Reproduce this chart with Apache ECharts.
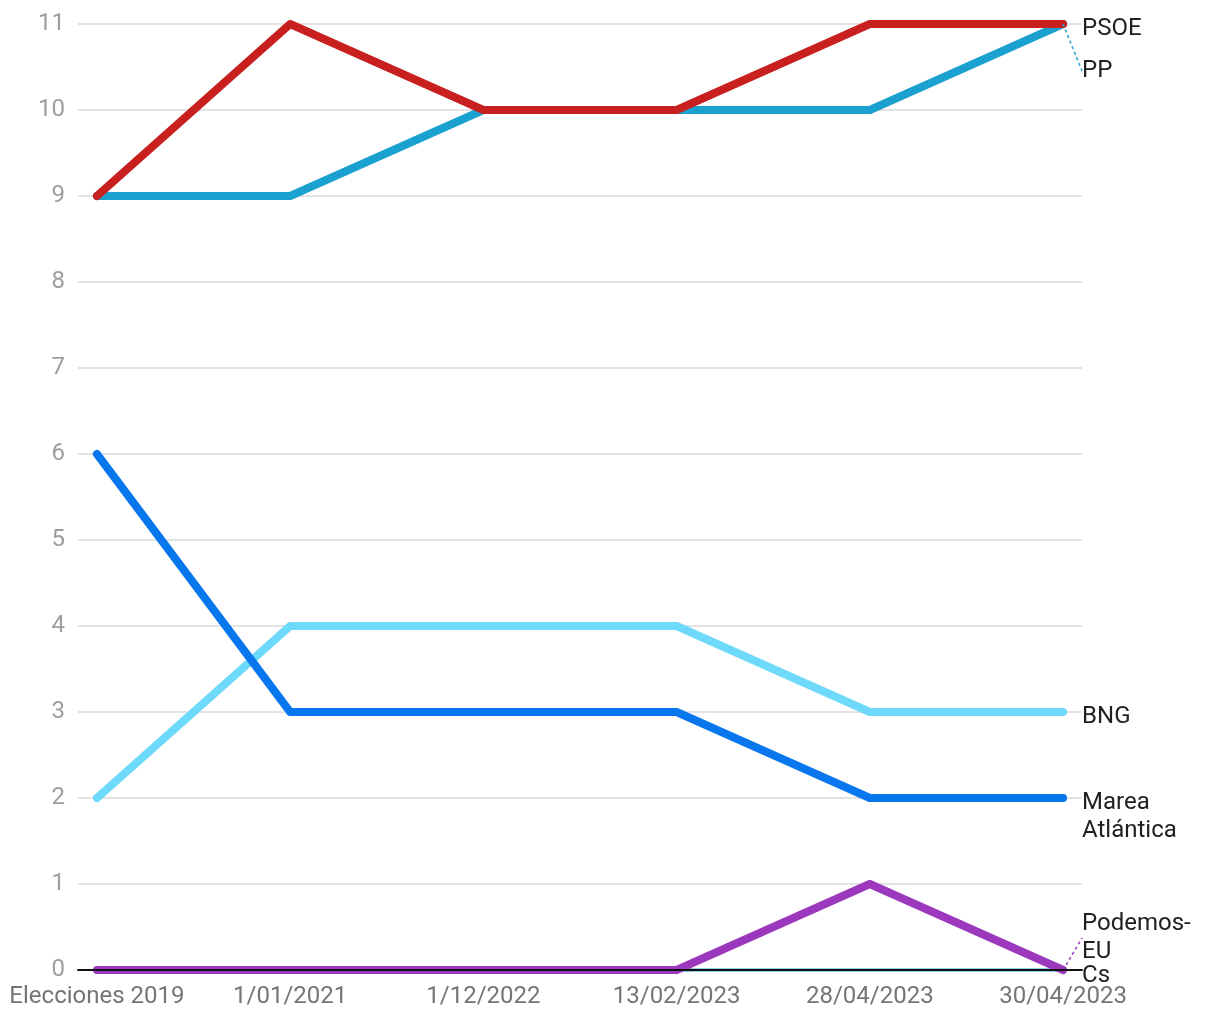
<!DOCTYPE html>
<html>
<head>
<meta charset="utf-8">
<script src="https://cdn.jsdelivr.net/npm/echarts@6/dist/echarts.min.js"></script>
<style>
html,body{margin:0;padding:0;background:#fff;}
#chart{width:1220px;height:1020px;}
</style>
</head>
<body>
<div id="chart"></div>
<script>
const categories = ["Elecciones 2019", "1/01/2021", "1/12/2022", "13/02/2023", "28/04/2023", "30/04/2023"];
const yTicks = [0,1,2,3,4,5,6,7,8,9,10,11];
const psoe = [9, 11, 10, 10, 11, 11];
const pp = [9, 9, 10, 10, 10, 11];
const bng = [2, 4, 4, 4, 3, 3];
const marea = [6, 3, 3, 3, 2, 2];
const podemos = [0, 0, 0, 0, 1, 0];
const cs = [0, 0, 0, 0, 0, 0];

const FONT = 'Roboto';
const FS = 24;

function mk(name, labelText, values, color, width, dy, leader) {
  const last = values.length - 1;
  const ll = leader ? { show: true, lineStyle: { color: color, width: 1.5, type: [3, 3] } } : { show: false };
  return {
    name: name,
    type: 'line',
    clip: false,
    showSymbol: true,
    showAllSymbol: true,
    symbol: 'circle',
    symbolSize: 0,
    lineStyle: { color: color, width: width, cap: 'round', join: 'round' },
    itemStyle: { color: color },
    emphasis: { disabled: true },
    label: { show: false },
    data: values.map((v, i) => i === last ? {
      value: [i, v],
      label: {
        show: true,
        position: 'right',
        distance: 19,
        formatter: labelText,
        color: '#212121',
        fontFamily: FONT,
        fontSize: FS,
        lineHeight: 28,
        align: 'left',
        verticalAlign: 'middle'
      },
      labelLine: ll
    } : [i, v]),
    labelLayout: { dy: dy },
    labelLine: ll
  };
}

const chart = echarts.init(document.getElementById('chart'), null, { renderer: 'canvas' });
chart.setOption({
  animation: false,
  backgroundColor: '#ffffff',
  grid: { left: 78, right: 138, top: 24, bottom: 50, containLabel: false },
  xAxis: {
    type: 'value',
    min: -0.098,
    max: 5.098,
    z: 10,
    axisLine: { show: true, lineStyle: { color: '#111111', width: 2 } },
    axisTick: { show: false },
    splitLine: { show: false },
    axisLabel: {
      customValues: categories.map((c, i) => i),
      formatter: v => categories[Math.round(v)],
      color: '#757575',
      fontFamily: FONT,
      fontSize: FS,
      margin: 15,
      showMinLabel: true,
      showMaxLabel: true
    }
  },
  yAxis: {
    type: 'value',
    min: 0,
    max: 11,
    interval: 1,
    axisLine: { show: false },
    axisTick: { show: false },
    splitLine: { show: true, lineStyle: { color: '#e3e3e3', width: 2 } },
    axisLabel: {
      customValues: yTicks,
      color: '#9e9e9e',
      fontFamily: FONT,
      fontSize: FS,
      margin: 13
    }
  },
  series: [
    mk('Cs', 'Cs', cs, '#1a9fcc', 3, 6, false),
    mk('Podemos-EU', 'Podemos-\nEU', podemos, '#9b38bd', 8, -32, true),
    mk('BNG', 'BNG', bng, '#6dd9fb', 8, 5, false),
    mk('Marea Atlántica', 'Marea\nAtlántica', marea, '#0877ee', 8, 19, false),
    mk('PP', 'PP', pp, '#1ba1d0', 8, 47, true),
    mk('PSOE', 'PSOE', psoe, '#c81f1f', 8, 5, false)
  ]
});
</script>
</body>
</html>
